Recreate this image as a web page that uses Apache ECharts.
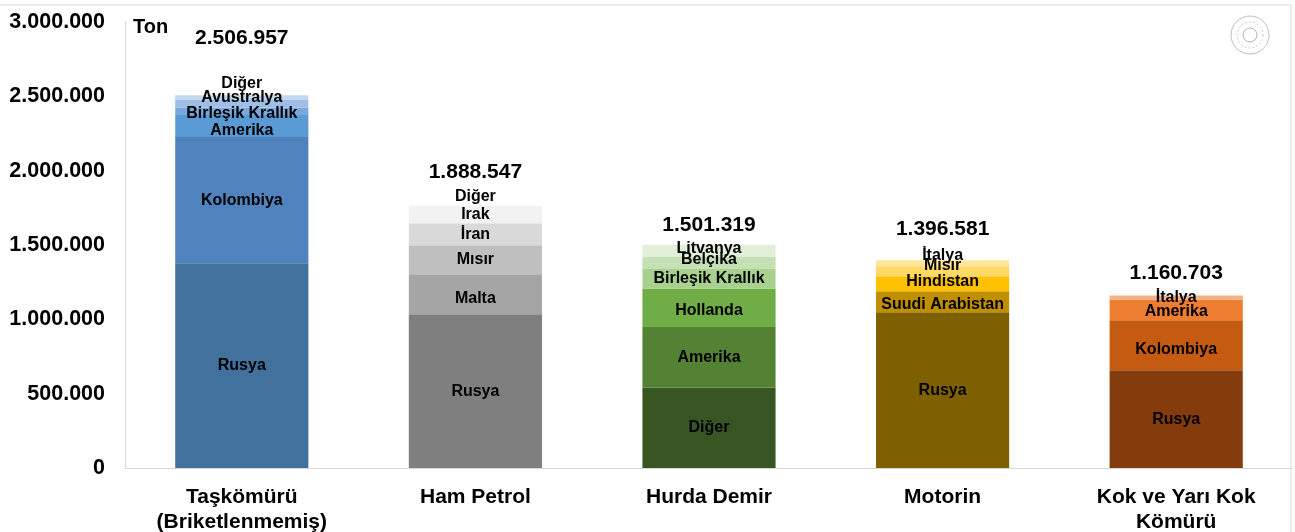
<!DOCTYPE html>
<html>
<head>
<meta charset="utf-8">
<script src="https://cdn.jsdelivr.net/npm/echarts@6/dist/echarts.min.js"></script>
<style>
  html, body { margin: 0; padding: 0; background: #fff; }
  #chart { width: 1295px; height: 532px; }
</style>
</head>
<body>
<div id="chart"></div>
<script>
// kategoriler ve toplamlar
const categories = ['Taşkömürü\n(Briketlenmemiş)', 'Ham Petrol', 'Hurda Demir', 'Motorin', 'Kok ve Yarı Kok\nKömürü'];
const totals = [2506957, 1888547, 1501319, 1396581, 1160703];

// her sütunun ülke dilimleri (alttan üste)
const tasCountries = ['Rusya', 'Kolombiya', 'Amerika', 'Birleşik Krallık', 'Avustralya', 'Diğer'];
const tasValues = [1378000, 848000, 148000, 49000, 52000, 31957];
const hamCountries = ['Rusya', 'Malta', 'Mısır', 'İran', 'Irak', 'Diğer'];
const hamValues = [1034000, 269000, 195000, 148000, 119000, 123547];
const hurdaCountries = ['Diğer', 'Amerika', 'Hollanda', 'Birleşik Krallık', 'Belçika', 'Litvanya'];
const hurdaValues = [541000, 408000, 256000, 133000, 85000, 78319];
const motorinCountries = ['Rusya', 'Suudi Arabistan', 'Hindistan', 'Mısır', 'İtalya'];
const motorinValues = [1048000, 141000, 101000, 67000, 39581];
const kokCountries = ['Rusya', 'Kolombiya', 'Amerika', 'İtalya'];
const kokValues = [657000, 336000, 141000, 26703];

const yTicks = [0, 500000, 1000000, 1500000, 2000000, 2500000, 3000000];

// renkler / etiket kaydırmaları (stil)
const palettes = [
  ['#41719c', '#5083bd', '#5b9bd5', '#7aa8dc', '#9fbee5', '#c3d6ef'],
  ['#7f7f7f', '#a5a5a5', '#bfbfbf', '#d9d9d9', '#f2f2f2', '#ffffff'],
  ['#375623', '#548235', '#70ad47', '#a9d18e', '#c5e0b4', '#e2f0d9'],
  ['#7f6000', '#bf8f00', '#ffc000', '#ffd966', '#ffe699'],
  ['#843c0c', '#c55a11', '#ed7d31', '#f4b183']
];
const labelShift = [
  [0, 0, 5, 2, -6, -14],
  [0, 4, 0, 0, 0, 0],
  [0, 0, 3, 0, -3, -2],
  [0, 3, -2, -6, -8],
  [0, 4, 2, 0]
];
const totalShift = [57, 15, 20, 31, 22];

const font = 'Liberation Sans, Arial, sans-serif';
const fmt = v => String(v).replace(/\B(?=(\d{3})+(?!\d))/g, '.');

const stacks = [
  [tasCountries, tasValues],
  [hamCountries, hamValues],
  [hurdaCountries, hurdaValues],
  [motorinCountries, motorinValues],
  [kokCountries, kokValues]
];

let series = [];
for (let layer = 0; layer < 6; layer++) {
  series.push({
    type: 'bar',
    stack: 'total',
    barWidth: '57%',
    data: stacks.map((s, j) => {
      if (layer >= s[1].length) return '-';
      return {
        value: s[1][layer],
        name: s[0][layer],
        itemStyle: { color: palettes[j][layer] },
        label: { offset: [0, labelShift[j][layer]] }
      };
    }),
    label: {
      show: true,
      position: 'inside',
      formatter: p => p.data.name,
      fontFamily: font,
      fontWeight: 'bold',
      fontSize: 16,
      color: '#000'
    },
    emphasis: { disabled: true }
  });
}

// toplam etiketleri
series.push({
  type: 'scatter',
  symbol: 'circle',
  symbolSize: 0,
  itemStyle: { color: '#000', opacity: 1 },
  data: totals.map((t, j) => ({
    value: t,
    label: { offset: [0, -totalShift[j]] }
  })),
  label: {
    show: true,
    position: 'inside',
    formatter: p => fmt(p.value),
    textStyle: {},
    fontFamily: font,
    fontWeight: 'bold',
    fontSize: 21,
    color: '#000',
    opacity: 1
  },
  emphasis: { disabled: true },
  z: 5
});

let chart = echarts.init(document.getElementById('chart'));
chart.setOption({
  animation: false,
  grid: { left: 125, right: 2, top: 22, bottom: 64, containLabel: false, outerBoundsMode: 'none' },
  xAxis: {
    type: 'category',
    data: categories,
    axisLine: { lineStyle: { color: '#d9d9d9', width: 1 } },
    axisTick: { show: false },
    axisLabel: {
      interval: 0,
      margin: 17,
      fontFamily: font,
      fontWeight: 'bold',
      fontSize: 21,
      lineHeight: 25,
      color: '#000'
    }
  },
  yAxis: {
    type: 'value',
    min: yTicks[0],
    max: yTicks[yTicks.length - 1],
    interval: 500000,
    axisLine: { show: true, lineStyle: { color: '#d9d9d9', width: 1 } },
    axisTick: { show: false },
    splitLine: { show: false },
    axisLabel: {
      margin: 20,
      formatter: v => fmt(v),
      fontFamily: font,
      fontWeight: 'bold',
      fontSize: 21.5,
      color: '#000'
    }
  },
  graphic: [
    {
      type: 'rect',
      shape: { x: -2, y: 5, width: 1293, height: 540 },
      style: { fill: 'none', stroke: '#d9d9d9', lineWidth: 1 },
      silent: true
    },
    {
      type: 'text',
      left: 133,
      top: 17,
      style: { text: 'Ton', font: 'bold 20px ' + font, fill: '#000' }
    },
    {
      type: 'circle',
      shape: { cx: 1250, cy: 35, r: 19 },
      style: { fill: 'none', stroke: '#bbbbbb', lineWidth: 1 },
      silent: true
    },
    {
      type: 'circle',
      shape: { cx: 1250, cy: 35, r: 13 },
      style: { fill: 'none', stroke: '#c8c8c8', lineWidth: 1, lineDash: [2, 2] },
      silent: true
    },
    {
      type: 'circle',
      shape: { cx: 1250, cy: 35, r: 7 },
      style: { fill: 'none', stroke: '#b0b0b0', lineWidth: 1 },
      silent: true
    }
  ],
  series: series
});
</script>
</body>
</html>
